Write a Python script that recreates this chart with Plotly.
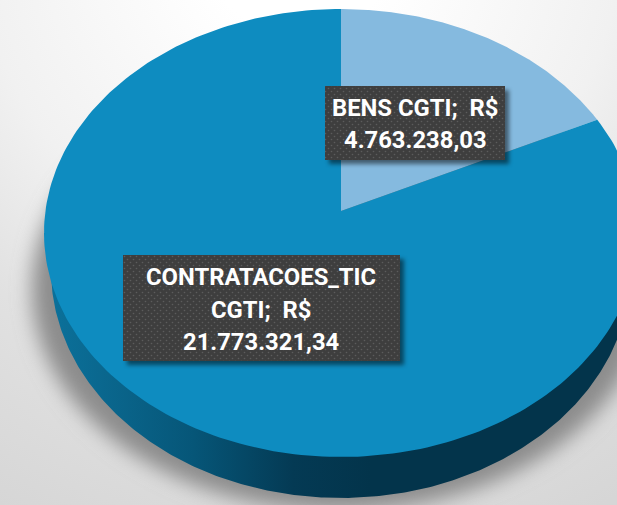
import base64
import numpy as np
import plotly.graph_objects as go

categories = ["BENS CGTI", "CONTRATACOES_TIC CGTI"]
values = [4763238.03, 21773321.34]
label_lines = [["BENS CGTI;\u00a0 R$", "4.763.238,03"],
               ["CONTRATACOES_TIC", "CGTI;\u00a0 R$", "21.773.321,34"]]
slice_colors = ["#85badf", "#0e8cc0"]

W, H = 617, 505
CX, CY, RX, RY = 341, 233, 297, 224      # top face ellipse
APEX = 22 / 224                          # perspective shift of the pie centre
LOW_CY, LOW_RX, LOW_RY = 270, 290, 228   # bottom rim ellipse


def face(theta):
    """Pie angle (clockwise from 12 o'clock) to page coordinates, in perspective."""
    x, y = np.sin(theta), np.cos(theta)
    d = 1 + APEX * y
    return CX + RX * x * np.sqrt(1 - APEX ** 2) / d, CY - RY * (y + APEX) / d


def wedge(a0, a1):
    t = np.linspace(a0, a1, 240)
    x, y = face(t)
    ay = CY - RY * APEX
    return np.r_[CX, x, CX], np.r_[ay, y, ay]


fig = go.Figure()

# 3D side of the pie
rim = np.linspace(0, np.pi, 300)
side_x = np.r_[CX - RX, CX - LOW_RX * np.cos(rim), CX + RX]
side_y = np.r_[CY, LOW_CY + LOW_RY * np.sin(rim), CY]
fig.add_trace(go.Scatter(
    x=side_x, y=side_y, mode="lines", line=dict(width=0), fill="toself",
    hoverinfo="skip", showlegend=False,
    fillgradient=dict(type="horizontal", start=44, stop=638, colorscale=[
        [0, "#0b729c"], [0.1, "#0a678e"], [0.25, "#065678"],
        [0.42, "#043a54"], [0.55, "#03344b"], [1, "#03344b"]]),
))

# Pie slices, clockwise from 12 o'clock, angles taken from the values
fractions = np.array(values) / np.sum(values)
edges = np.r_[0, np.cumsum(fractions)] * 2 * np.pi
for i, name in enumerate(categories):
    wx, wy = wedge(edges[i], edges[i + 1])
    fig.add_trace(go.Scatter(
        x=wx, y=wy, mode="lines", line=dict(width=0), fill="toself",
        fillcolor=slice_colors[i], name=name, hoverinfo="name", showlegend=False,
    ))

bg_svg = f'''<svg xmlns="http://www.w3.org/2000/svg" width="{W}" height="{H}" viewBox="0 0 {W} {H}">
<defs>
<radialGradient id="g" gradientUnits="userSpaceOnUse" cx="300" cy="-60" r="640">
<stop offset="0.15" stop-color="#ffffff"/><stop offset="0.5" stop-color="#f1f1f1"/><stop offset="0.72" stop-color="#e1e1e1"/><stop offset="1" stop-color="#d6d6d6"/>
</radialGradient>
<filter id="b" filterUnits="userSpaceOnUse" x="-50" y="-50" width="{W+100}" height="{H+100}"><feGaussianBlur stdDeviation="10"/></filter>
</defs>
<rect width="{W}" height="{H}" fill="url(#g)"/>
<ellipse cx="340" cy="289" rx="308" ry="222" fill="#8c8c8c" filter="url(#b)"/>
</svg>'''

boxes = [(325, 86, 180, 74), (123, 255, 277, 106)]
box_svg = "".join(
    f'<rect x="{x+4}" y="{y+4}" width="{w}" height="{h}" fill="#000" opacity="0.5" filter="url(#s)"/>'
    f'<rect x="{x}" y="{y}" width="{w}" height="{h}" fill="url(#p)"/>' for x, y, w, h in boxes)
fg_svg = f'''<svg xmlns="http://www.w3.org/2000/svg" width="{W}" height="{H}" viewBox="0 0 {W} {H}">
<defs>
<filter id="s" x="-10%" y="-10%" width="120%" height="120%"><feGaussianBlur stdDeviation="2"/></filter>
<pattern id="p" width="6" height="6" patternUnits="userSpaceOnUse">
<rect width="6" height="6" fill="#3e3e3e"/><circle cx="1.5" cy="1.5" r="0.8" fill="#5c5c5c"/><circle cx="4.5" cy="4.5" r="0.8" fill="#5c5c5c"/>
</pattern>
</defs>{box_svg}</svg>'''


def uri(svg):
    return "data:image/svg+xml;base64," + base64.b64encode(svg.encode()).decode()


images = [dict(source=uri(s), xref="paper", yref="paper", x=0, y=1, sizex=1, sizey=1,
               xanchor="left", yanchor="top", sizing="stretch", layer=lay)
          for s, lay in [(bg_svg, "below"), (fg_svg, "above")]]

line_pos = [[(415, 108), (415, 140)], [(261, 277), (261, 310), (261, 342)]]
annotations = []
for lines, pos in zip(label_lines, line_pos):
    for text, (ax, ay) in zip(lines, pos):
        annotations.append(dict(x=ax, y=ay, text=text, xref="x", yref="y", showarrow=False,
                                xanchor="center", yanchor="middle",
                                font=dict(family="Roboto", size=23.8, color="#ffffff", weight="bold")))

fig.update_layout(
    width=W, height=H, margin=dict(l=0, r=0, t=0, b=0),
    paper_bgcolor="rgba(0,0,0,0)", plot_bgcolor="rgba(0,0,0,0)",
    xaxis=dict(range=[0, W], visible=False, fixedrange=True),
    yaxis=dict(range=[H, 0], visible=False, fixedrange=True),
    images=images, annotations=annotations, showlegend=False,
)
fig.write_html("out.html", config={"displayModeBar": False},
               post_script="document.body.style.margin='0';document.body.style.overflow='hidden';")
